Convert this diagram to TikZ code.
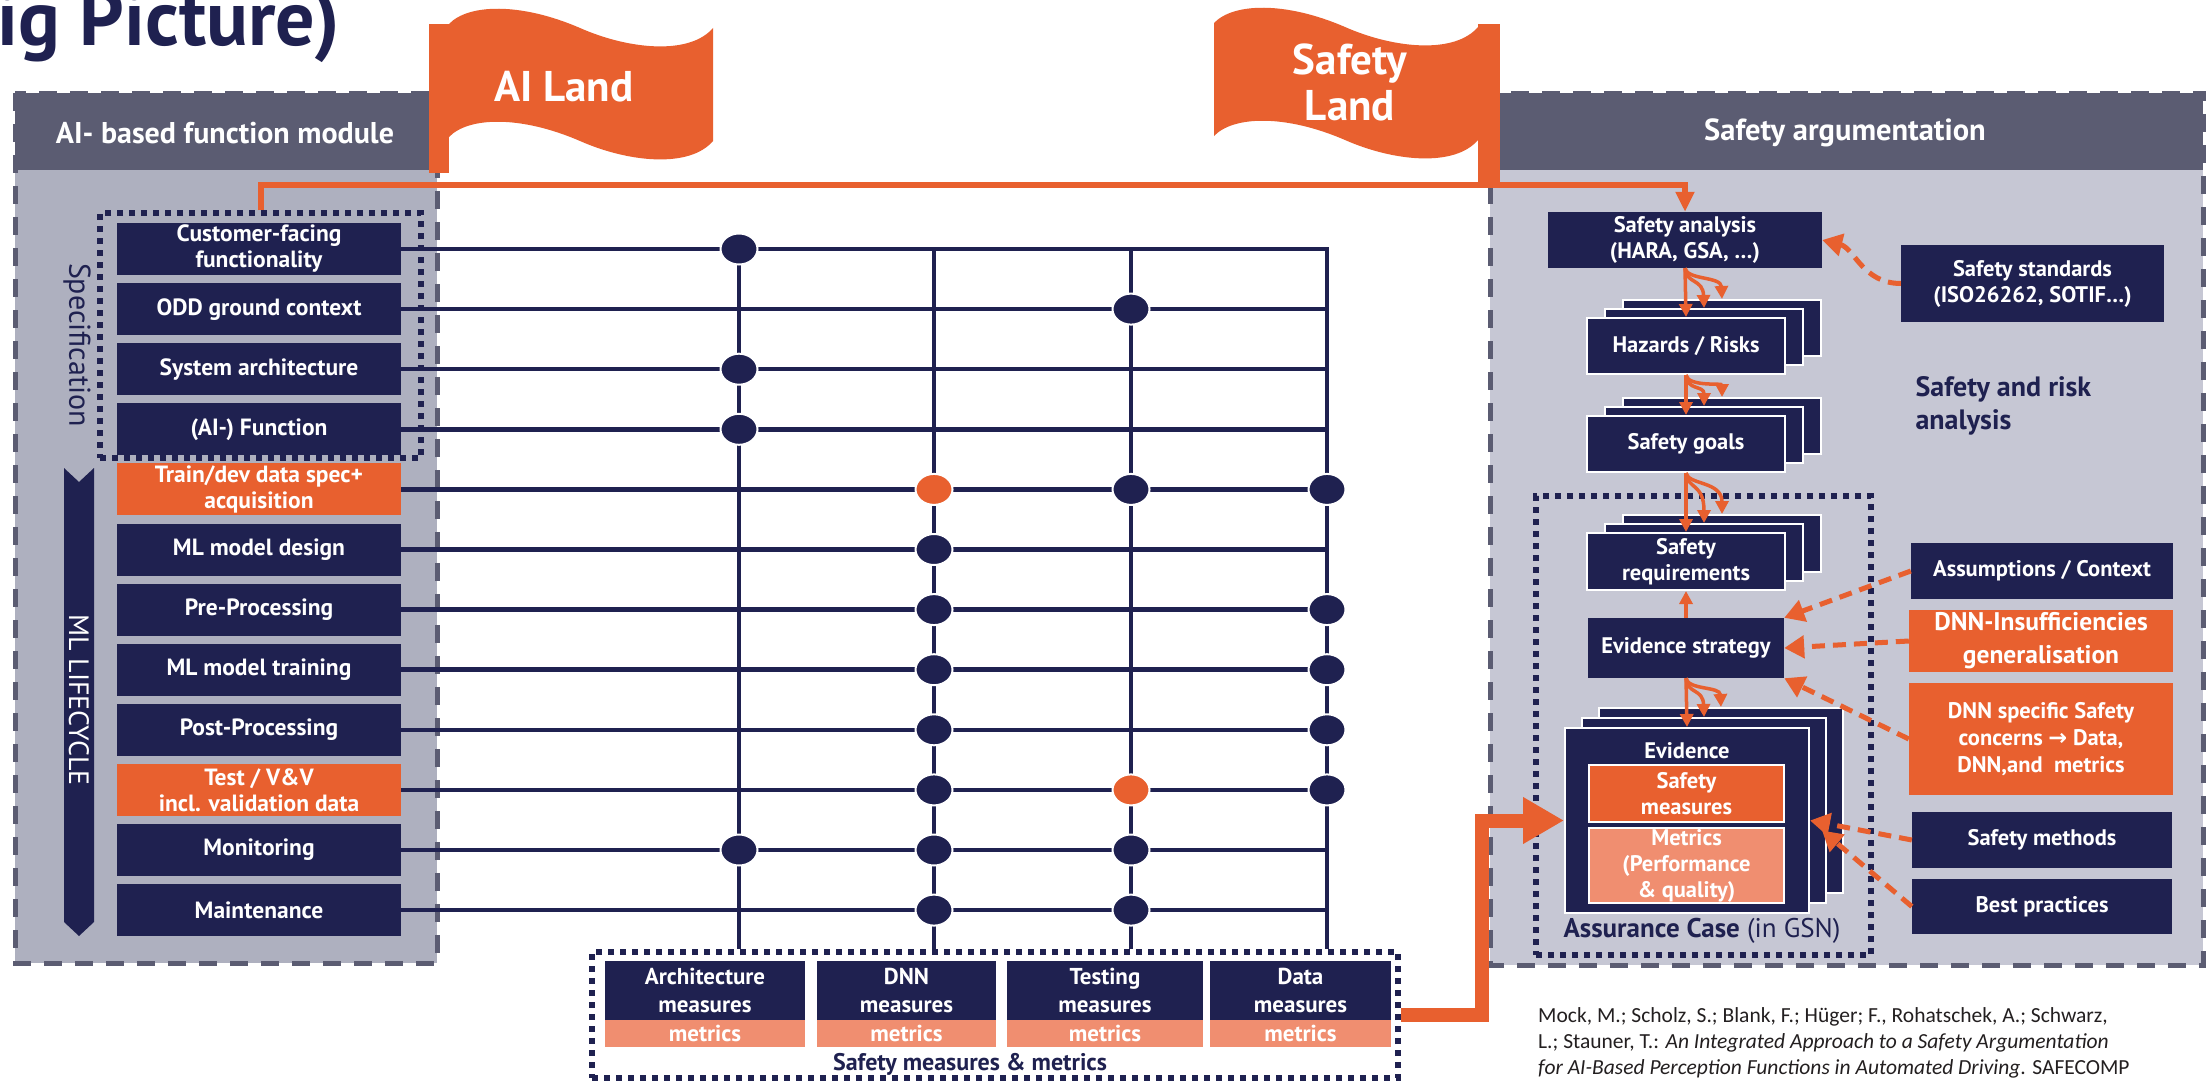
\documentclass[tikz,border=0pt]{standalone}
\usepackage{fontspec}
\setmainfont{PT Sans}
\newfontfamily\citefont{Carlito}
\newfontfamily\symfont{DejaVu Sans}
\usetikzlibrary{arrows.meta,calc,shapes.geometric}
\definecolor{cnavy}{HTML}{1F2150}
\definecolor{corng}{HTML}{E8602F}
\definecolor{csalmon}{HTML}{F08E70}
\definecolor{chdr}{HTML}{5B5C72}
\definecolor{clpanel}{HTML}{AEB0BF}
\definecolor{crpanel}{HTML}{C6C7D4}
\definecolor{ccite}{HTML}{231F20}
\newcommand\myfs[2]{\fontsize{#1}{#2}\selectfont}
\tikzset{
  gl/.style={draw=cnavy, line width=4.5pt},
  nb/.style={fill=cnavy, text=white, font=\bfseries\myfs{23.5}{26}, align=center, inner sep=0pt, minimum width=284pt, minimum height=52pt},
  ob/.style={nb, fill=corng},
  dt/.style={ellipse, fill=cnavy, draw=white, line width=2pt, minimum width=37pt, minimum height=31pt, inner sep=0pt},
  dto/.style={dt, fill=corng},
  dashbox/.style={draw=chdr, line width=5pt, dash pattern=on 18pt off 13pt},
  dotbox/.style={draw=cnavy, line width=5.5pt, dash pattern=on 6pt off 6pt, inner sep=0pt},
  rb/.style={fill=cnavy, text=white, font=\bfseries\myfs{22.5}{26}, align=center, inner sep=0pt},
  stk/.style={rb, draw=white, line width=2pt},
  mbox/.style={fill=cnavy, text=white, font=\bfseries\myfs{23}{28}, align=center, inner sep=0pt, minimum height=59pt},
  metr/.style={fill=csalmon, text=white, font=\bfseries\myfs{23}{26}, align=center, inner sep=0pt, minimum height=27pt},
  oar/.style={draw=corng, line width=3.5pt, -{Triangle[length=13pt,width=13pt]}},
  da/.style={draw=corng, line width=5pt, dash pattern=on 13pt off 8pt, -{Triangle[length=20pt,width=22pt]}},
  flagtext/.style={text=white, font=\bfseries\myfs{43}{46}, align=center},
}
\newcommand\branch[4]{% src, dst, dx, dy
  \draw[oar] (#1.south) -- (#2.north);
  \draw[oar] (#1.south) .. controls ($(#1.south)+(1,16)$) and ($(#1.south)+(#3,10)$) .. ($(#2.north)+(#3,#4)$);
  \draw[oar] (#1.south) .. controls ($(#1.south)+(2,12)$) and ($(#1.south)+(2*#3,8)$) .. ($(#2.north)+(2*#3,2*#4)$);
}
\newcommand\stackthree[6]{% name, cx, cy, w, h, text ; offsets via \sdx \sdy
  \node[stk, minimum width=#4pt, minimum height=#5pt] at (#2+2*\sdx,#3+2*\sdy) {};
  \node[stk, minimum width=#4pt, minimum height=#5pt] at (#2+\sdx,#3+\sdy) {};
  \node[stk, minimum width=#4pt, minimum height=#5pt] (#1) at (#2,#3) {#6};
}
\newcommand\flagshape{%
  (449,24) .. controls (468,4) and (520,2) .. (580,28) .. controls (630,50) and (690,55) .. (713,28)
  -- (713,141) .. controls (690,168) and (630,163) .. (580,141) .. controls (520,115) and (468,117) .. (449,137) -- cycle}
\begin{document}
\begin{tikzpicture}[x=1pt,y=-1pt]
\useasboundingbox (0,0) rectangle (2206,1081);
\fill[white] (0,0) rectangle (2206,1081);

% title (cut at the top edge as in the reference)
\node[anchor=base west, inner sep=0pt, text=cnavy, font=\bfseries\myfs{78}{78}] (title) at (-3,46) {ig Picture)};

% ---------- left panel ----------
\fill[clpanel] (15,93) rectangle (437,963);
\fill[chdr] (15,93) rectangle (437,170);
\draw[dashbox] (15,93) rectangle (437,963);
\node[text=white, font=\bfseries\myfs{30}{32}] (lhdr) at (225,133) {AI- based function module};

% ---------- right panel ----------
\fill[crpanel] (1490,93) rectangle (2203,965);
\fill[chdr] (1490,93) rectangle (2203,170);
\draw[dashbox] (1490,93) rectangle (2203,965);
\node[text=white, font=\bfseries\myfs{30.5}{32}] (rhdr) at (1845,133) {Safety argumentation};

% specification box and lifecycle arrow
\node[dotbox, minimum width=321pt, minimum height=245pt] (spec) at (260.5,335.5) {};
\node[rotate=-90, text=cnavy, font=\myfs{30}{32}] (spectext) at (77,345) {Specification};
\fill[cnavy] (64,468) -- (79,482) -- (94,468) -- (94,922) -- (79,936) -- (64,922) -- cycle;
\node[rotate=-90, text=white, font=\myfs{28}{30}] (mltext) at (79,700) {ML LIFECYCLE};

% row boxes
\node[nb] (r1) at (259,249) {Customer-facing\\functionality};
\node[nb] (r2) at (259,309.1) {ODD ground context};
\node[nb] (r3) at (259,369.2) {System architecture};
\node[nb] (r4) at (259,429.3) {(AI-) Function};
\node[ob] (r5) at (259,489.4) {Train/dev data spec+\\acquisition};
\node[nb] (r6) at (259,549.5) {ML model design};
\node[nb] (r7) at (259,609.6) {Pre-Processing};
\node[nb] (r8) at (259,669.7) {ML model training};
\node[nb] (r9) at (259,729.8) {Post-Processing};
\node[ob] (r10) at (259,789.9) {Test / V\&V\\incl. validation data};
\node[nb] (r11) at (259,850) {Monitoring};
\node[nb] (r12) at (259,910.1) {Maintenance};

% safety measures & metrics
\node[dotbox, minimum width=806pt, minimum height=126pt] (smm) at (995,1015) {};
\node[mbox, minimum width=200pt] (am) at (705,990.5) {Architecture\\measures};
\node[metr, minimum width=200pt] (amm) at (705,1033.5) {metrics};
\node[mbox, minimum width=179pt] (dm) at (906.5,990.5) {DNN\\measures};
\node[metr, minimum width=179pt] (dmm) at (906.5,1033.5) {metrics};
\node[mbox, minimum width=196pt] (tm) at (1105,990.5) {Testing\\measures};
\node[metr, minimum width=196pt] (tmm) at (1105,1033.5) {metrics};
\node[mbox, minimum width=181pt] (xm) at (1300.5,990.5) {Data\\measures};
\node[metr, minimum width=181pt] (xmm) at (1300.5,1033.5) {metrics};
\node[text=cnavy, font=\bfseries\myfs{24}{26}] (smmtext) at (970,1064) {Safety measures \& metrics};

% grid
\coordinate (c1) at (739,249);
\coordinate (c2) at (934,249);
\coordinate (c3) at (1131,249);
\coordinate (c4) at (1327,249);
\draw[gl] (r1.east) -- (c4) -- (c4 |- smm.north);
\foreach \i in {2,...,12} \draw[gl] (r\i.east) -- (r\i.east -| c4);
\foreach \c in {c1,c2,c3} \draw[gl] (\c) -- (\c |- smm.north);

% dots
\node[dt] (d1a) at (r1.east -| c1) {};
\node[dt] (d2c) at (r2.east -| c3) {};
\node[dt] (d3a) at (r3.east -| c1) {};
\node[dt] (d4a) at (r4.east -| c1) {};
\node[dto] (d5b) at (r5.east -| c2) {};
\node[dt] (d5c) at (r5.east -| c3) {};
\node[dt] (d5d) at (r5.east -| c4) {};
\node[dt] (d6b) at (r6.east -| c2) {};
\node[dt] (d7b) at (r7.east -| c2) {};
\node[dt] (d7d) at (r7.east -| c4) {};
\node[dt] (d8b) at (r8.east -| c2) {};
\node[dt] (d8d) at (r8.east -| c4) {};
\node[dt] (d9b) at (r9.east -| c2) {};
\node[dt] (d9d) at (r9.east -| c4) {};
\node[dt] (d10b) at (r10.east -| c2) {};
\node[dto] (d10c) at (r10.east -| c3) {};
\node[dt] (d10d) at (r10.east -| c4) {};
\node[dt] (d11a) at (r11.east -| c1) {};
\node[dt] (d11b) at (r11.east -| c2) {};
\node[dt] (d11c) at (r11.east -| c3) {};
\node[dt] (d12b) at (r12.east -| c2) {};
\node[dt] (d12c) at (r12.east -| c3) {};

% ---------- right panel contents ----------
\node[rb, minimum width=274pt, minimum height=56pt] (sa) at (1685,240) {Safety analysis\\(HARA, GSA, \dots)};
\node[rb, minimum width=263pt, minimum height=77pt] (ss) at (2032.5,283.5) {Safety standards\\(ISO26262, SOTIF\dots)};
\def\sdx{18}\def\sdy{-9}
\stackthree{hz}{1686}{346}{198}{56}{Hazards / Risks}
\stackthree{sg}{1686}{444}{198}{56}{Safety goals}
\stackthree{sr}{1686}{561.5}{198}{57}{Safety\\requirements}
\node[dotbox, minimum width=335pt, minimum height=459pt] (ac) at (1703.5,725.5) {};
\node[rb, minimum width=196pt, minimum height=60pt] (es) at (1686,648) {Evidence strategy};
\def\sdx{17}\def\sdy{-10}
\stackthree{ev}{1687}{820.5}{244}{185}{}
\node[text=white, font=\bfseries\myfs{22.5}{26}] (evt) at (1687,751) {Evidence};
\node[rb, fill=corng, draw=white, line width=2pt, minimum width=195pt, minimum height=57pt] (sm) at (1686.5,793.5) {Safety\\measures};
\node[rb, fill=csalmon, draw=white, line width=2pt, minimum width=195pt, minimum height=75pt] (mt) at (1686.5,865.5) {Metrics\\(Performance\\\& quality)};
\node[text=cnavy, font=\myfs{27}{30}] (act) at (1702,931) {\textbf{Assurance Case} (in GSN)};
\node[anchor=west, align=left, text=cnavy, font=\bfseries\myfs{28}{33}] (sra) at (1912,406) {Safety and risk\\analysis};

\node[rb, minimum width=262pt, minimum height=56pt] (asm) at (2042,571) {Assumptions / Context};
\node[rb, fill=corng, font=\bfseries\myfs{25.5}{33}, minimum width=264pt, minimum height=62pt] (di) at (2041,641) {DNN-Insufficiencies\\generalisation};
\node[rb, fill=corng, font=\bfseries\myfs{22.5}{27}, minimum width=264pt, minimum height=112pt] (ds) at (2041,739) {DNN specific Safety\\concerns {\symfont\bfseries →} Data,\\DNN,and\ \ metrics};
\node[rb, minimum width=260pt, minimum height=56pt] (smt) at (2042,840) {Safety methods};
\node[rb, minimum width=260pt, minimum height=55pt] (bp) at (2042,906.5) {Best practices};

% arrows in right panel
\branch{sa}{hz}{18}{-9}
\branch{hz}{sg}{18}{-9}
\branch{sg}{sr}{18}{-9}
\draw[oar] (es.north) -- (sr.south);
\branch{es}{ev}{17}{-10}
\draw[da] (ss.west) .. controls ($(ss.west)+(-38,0)$) and ($(sa.east)+(32,8)$) .. (sa.east);
\draw[da] (asm.west) -- (es.north east);
\draw[da] (di.west) -- (es.east);
\draw[da] (ds.west) -- (es.south east);
\draw[da] (smt.west) -- (ev.east);
\draw[da] (bp.west) -- ($(ev.east)+(12,10)$);

% big arrow
\draw[corng, line width=14pt, line join=miter, -{Triangle[length=41pt,width=44pt]}] (smm.east) -- (1482,1015) |- (ev.west);

% ---------- flags ----------
\fill[corng] (429,24) rectangle (449,173);
\fill[corng] \flagshape;
\node[flagtext] (ail) at (564,87) {AI Land};
\begin{scope}[shift={(765,-1)}]
  \fill[corng] \flagshape;
\end{scope}
\fill[corng] (1478,24) rectangle (1500,183);
\node[flagtext] (sfl) at (1350,82) {Safety\\Land};

% orange link line
\draw[corng, line width=6pt, -{Triangle[length=20pt,width=18pt]}] (spec.north) -- ++(0,-25) -| (sa.north);

% citation
\node[anchor=west, align=left, text=ccite, font=\citefont\myfs{21.5}{26}, inner sep=0pt] (cite) at (1538,1043) {Mock, M.; Scholz, S.; Blank, F.; Hüger; F., Rohatschek, A.; Schwarz,\\L.; Stauner, T.: \textit{An Integrated Approach to a Safety Argumentation}\\\textit{for AI-Based Perception Functions in Automated Driving}. SAFECOMP};
\end{tikzpicture}
\end{document}
